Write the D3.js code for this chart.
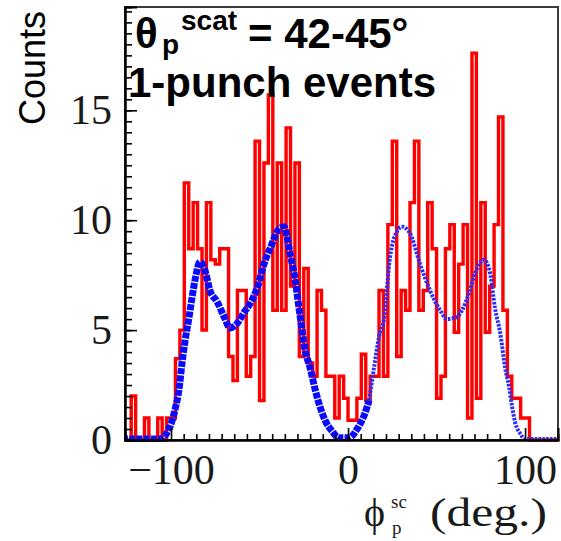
<!DOCTYPE html>
<html>
<head>
<meta charset="utf-8">
<script src="https://cdn.jsdelivr.net/npm/d3@7"></script>
<style>
  html, body { margin: 0; padding: 0; background: #fff; }
  svg { display: block; }
</style>
</head>
<body>
<svg id="chart" width="561" height="541"></svg>
<script>
// ---------------- data ----------------
const binStart = -125;      // lower edge of first bin (deg)
const binWidth = 2.5;       // deg
const redCounts = [
  0, 2, 0, 0, 1, 0, 0, 1, 0, 1,
  1, 3.7, 5, 11.7, 8.7, 10.8, 8.7, 5, 10.8, 8.2,
  8, 8.7, 8.7, 3.8, 2.7, 6.8, 6.8, 2.9, 3.8, 13.6,
  1.8, 12.6, 15.7, 5.9, 12.6, 5.9, 14.2, 7, 12.6, 3.8,
  7.8, 3.5, 2.9, 6.8, 5.9, 2.9, 2.9, 1, 2.9, 1.9,
  0.9, 0.9, 1.9, 3.9, 1.8, 2.9, 2.9, 6.8, 2.9, 9.8,
  13.6, 3.8, 6.8, 5.9, 10.8, 13.6, 5.9, 6.8, 10.8, 8.7,
  1.9, 2.9, 8.7, 9.8, 4.9, 8, 9.8, 1, 17.6, 1.9,
  10.8, 4.9, 7, 9.8, 14.7, 5.9, 2.9, 1.9, 1.9, 1,
  1, 0, 0, 0, 0, 0, 0, 0
];

const blueDeg = [
  -127.7, -117.5, -106.2, -103.4, -101.1, -97.7, -95.5, -93.8, -92.1, -89.8,
  -88.1, -86.4, -83.6, -80.8, -78, -74, -70, -66.7, -62.7, -58.8,
  -55.4, -51.4, -47.5, -44.1, -39, -36.2, -32.8, -29.9, -27.7, -26,
  -24.3, -21.5, -18.6, -15.8, -13, -9, -5.1, 0.6, 5.1, 9,
  11.9, 14.7, 17.5, 20.3, 23.7, 26, 30.5, 35, 40.7, 46.3,
  52, 55.9, 61.6, 64.4, 68.4, 71.8, 76.8, 80.2, 83, 85.9,
  88.7, 91, 92.7, 94.4, 97.2, 100, 118.6
];
const blueCounts = [
  0.05, 0.05, 0.05, 0.2, 0.5, 1.4, 2.3, 3.5, 4.5, 5.6,
  6.5, 7.3, 8.1, 7.7, 6.8, 6.3, 5.6, 5.1, 5.3, 5.8,
  6.2, 6.9, 8.0, 8.7, 9.6, 9.7, 8.5, 7.3, 6.0, 5.0,
  4.1, 3.3, 2.3, 1.5, 0.9, 0.4, 0.1, 0.1, 0.5, 1.1,
  1.8, 3.3, 4.7, 5.5, 8.3, 9.2, 9.7, 9.4, 8.0, 6.8,
  5.9, 5.5, 5.6, 5.9, 6.7, 7.6, 8.2, 7.6, 6.0, 4.9,
  3.3, 2.4, 1.5, 0.8, 0.3, 0.05, 0.05
];
const blueSplitDeg = 11.9;   // solid fit left of this, dotted right of it

const xMajorTicks = [-100, 0, 100];
const yMajorTicks = [0, 5, 10, 15];
const xTitle = ["\u03D5", "p", "sc", "(deg.)"];
const yTitle = "Counts";
const annotLine1 = ["θ", "p", "scat", "= 42-45°"];
const annotLine2 = "1-punch events";

// ---------------- layout ----------------
const svg = d3.select("#chart");
const L = 125, R = 558, T = 7, B = 440;
const x = d3.scaleLinear().domain([-126, 118.6]).range([L, R]);
const y = d3.scaleLinear().domain([0, 19.7]).range([B, T]);

svg.append("rect").attr("width", 561).attr("height", 541).attr("fill", "#fff");

// red histogram (step outline)
const histPts = [[binStart, 0]];
redCounts.forEach((v, i) => {
  const lo = binStart + i * binWidth;
  histPts.push([lo, v], [lo + binWidth, v]);
});
histPts.push([binStart + redCounts.length * binWidth, 0]);

svg.append("clipPath").attr("id", "plotclip")
  .append("rect").attr("x", L).attr("y", T).attr("width", R - L).attr("height", B - T + 2);

const plot = svg.append("g").attr("clip-path", "url(#plotclip)");

plot.append("path")
  .attr("d", d3.line().x(d => x(d[0])).y(d => y(d[1]))(histPts))
  .attr("fill", "none")
  .attr("stroke", "#ff0000")
  .attr("stroke-width", 3.4);

// blue fit curve
const blueAll = blueDeg.map((d, i) => [d, blueCounts[i]]);
const blueLeft = blueAll.filter(d => d[0] <= blueSplitDeg);
const blueRight = blueAll.filter(d => d[0] >= blueSplitDeg);
const blueLine = d3.line().x(d => x(d[0])).y(d => y(d[1])).curve(d3.curveMonotoneX);

plot.append("path")
  .attr("d", blueLine(blueLeft))
  .attr("fill", "none")
  .attr("stroke", "#0a0aff")
  .attr("stroke-width", 7)
  .attr("stroke-dasharray", "6,1.2");

plot.append("path")
  .attr("d", blueLine(blueRight))
  .attr("fill", "none")
  .attr("stroke", "#2b2bff")
  .attr("stroke-width", 4)
  .attr("stroke-dasharray", "2.5,1.3");

// white text box of the annotation
svg.append("rect").attr("x", 128).attr("y", 9).attr("width", 330).attr("height", 84).attr("fill", "#fff");

// frame
svg.append("rect").attr("x", L).attr("y", T).attr("width", R - L).attr("height", B - T)
  .attr("fill", "none").attr("stroke", "#3a3a3a").attr("stroke-width", 2);

// axes
const serif = "'Liberation Serif', 'Times New Roman', serif";
const fmt = d => d < 0 ? "\u2212" + Math.abs(d) : String(d);

const xMinorTicks = d3.range(-13, 13).map(k => k * 100 / 14).filter(v => v > -126 && v < 118.6);
const yMinorTicks = d3.range(0, 19.7, 0.5);

const gxMinor = svg.append("g").attr("transform", `translate(0,${B})`)
  .call(d3.axisBottom(x).tickValues(xMinorTicks).tickSize(-6).tickFormat(""));
const gx = svg.append("g").attr("transform", `translate(0,${B})`)
  .call(d3.axisBottom(x).tickValues(xMajorTicks).tickSize(-12).tickPadding(14).tickFormat(fmt));
const gyMinor = svg.append("g").attr("transform", `translate(${L},0)`)
  .call(d3.axisLeft(y).tickValues(yMinorTicks).tickSize(-7).tickFormat(""));
const gy = svg.append("g").attr("transform", `translate(${L},0)`)
  .call(d3.axisLeft(y).tickValues(yMajorTicks).tickSize(-12).tickPadding(13).tickFormat(fmt));

[gxMinor, gx, gyMinor, gy].forEach(g => {
  g.select(".domain").attr("stroke", "#000").attr("stroke-width", 2);
  g.selectAll(".tick line").attr("stroke", "#000").attr("stroke-width", 1.6);
  g.selectAll(".tick text").attr("font-family", serif).attr("font-size", 42).attr("fill", "#1a1a1a");
});

// x title
const xt = svg.append("g").attr("font-family", serif).attr("fill", "#1a1a1a");
xt.append("text").attr("x", 364).attr("y", 526).attr("font-size", 40).text(xTitle[0]);
xt.append("text").attr("x", 392).attr("y", 534).attr("font-size", 19).text(xTitle[1]);
xt.append("text").attr("x", 391).attr("y", 508).attr("font-size", 19).text(xTitle[2]);
xt.append("text").attr("x", 430).attr("y", 526).attr("font-size", 41)
  .attr("textLength", 117).attr("lengthAdjust", "spacingAndGlyphs").text(xTitle[3]);

// y title
svg.append("text")
  .attr("transform", "translate(45,68) rotate(-90)")
  .attr("text-anchor", "middle")
  .attr("font-family", "'Liberation Sans', Arial, sans-serif")
  .attr("font-size", 36)
  .attr("fill", "#000")
  .text(yTitle);

// annotation
const an = svg.append("g").attr("font-family", "'Liberation Sans', Arial, sans-serif")
  .attr("font-weight", "bold").attr("fill", "#000");
an.append("text").attr("x", 135).attr("y", 48).attr("font-size", 42).text(annotLine1[0]);
an.append("text").attr("x", 162).attr("y", 54).attr("font-size", 28).text(annotLine1[1]);
an.append("text").attr("x", 181).attr("y", 30).attr("font-size", 28).text(annotLine1[2]);
an.append("text").attr("x", 248).attr("y", 48).attr("font-size", 42).text(annotLine1[3]);
an.append("text").attr("x", 128).attr("y", 97).attr("font-size", 42).text(annotLine2);
</script>
</body>
</html>
